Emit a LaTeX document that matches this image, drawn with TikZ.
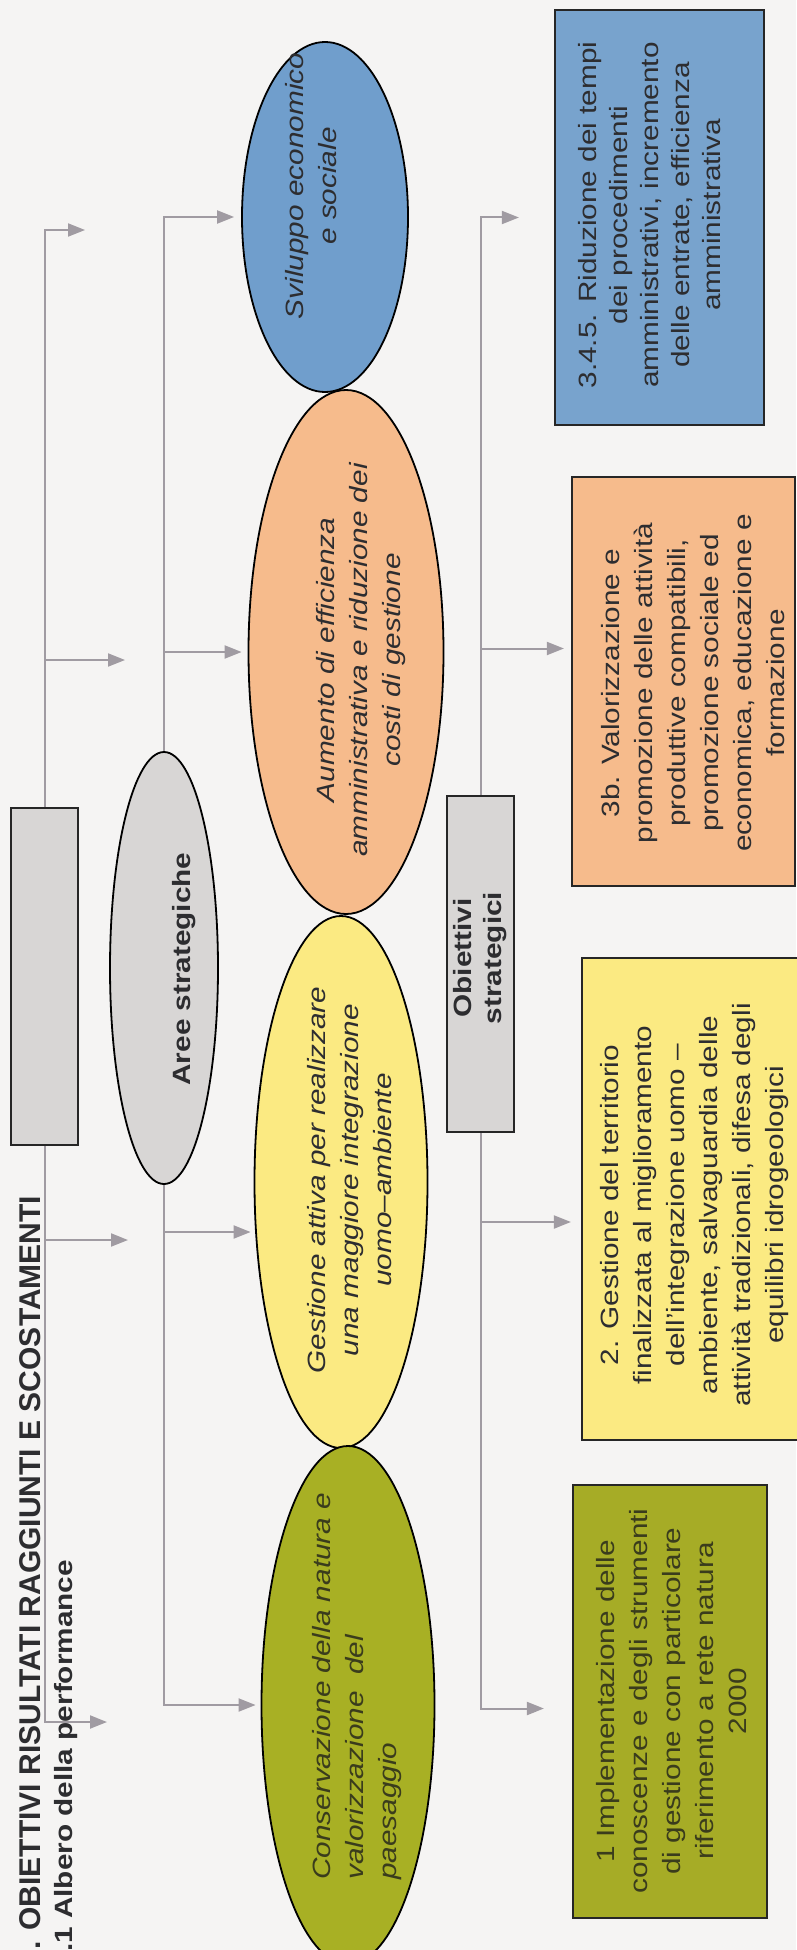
\documentclass[tikz,border=0pt]{standalone}
\usepackage{fontspec}
\usetikzlibrary{shapes.geometric,arrows.meta}
\newfontfamily\bodyfont[FakeStretch=1.19]{Liberation Sans}
\newfontfamily\headfont{Liberation Sans}
\definecolor{bgc}{RGB}{245,244,243}
\definecolor{linec}{RGB}{160,155,162}
\definecolor{bluee}{RGB}{112,158,204}
\definecolor{blueb}{RGB}{120,163,205}
\definecolor{orng}{RGB}{246,187,140}
\definecolor{yell}{RGB}{251,234,130}
\definecolor{olive}{RGB}{168,176,36}
\definecolor{oliveb}{RGB}{166,172,38}
\definecolor{grayf}{RGB}{216,214,213}
\definecolor{textc}{RGB}{45,45,48}
\definecolor{olivet}{RGB}{58,60,28}
\begin{document}
\begin{tikzpicture}[x=1pt,y=-1pt,
  conn/.style={draw=linec, line width=2pt, -{Triangle[length=17pt,width=13pt]}},
  oval/.style={ellipse, draw=black, line width=1.8pt, inner sep=0pt},
  boxst/.style={rectangle, draw=black!85, line width=2.2pt, inner sep=0pt},
  txt/.style={rotate=90, align=center, inner sep=0pt, text=textc, font=\bodyfont\fontsize{25}{33}\selectfont},
  itxt/.style={txt, font=\bodyfont\itshape\fontsize{25}{33}\selectfont},
  btxt/.style={txt, font=\bodyfont\bfseries\fontsize{25}{30}\selectfont},
]
\useasboundingbox (0,0) rectangle (796,1950);
\fill[bgc] (0,0) rectangle (796,1950);

% titles
\node[rotate=90, anchor=base west, inner sep=0pt, text=textc,
  font=\headfont\bfseries\fontsize{30}{36}\selectfont] (title) at (40,1950) {. OBIETTIVI RISULTATI RAGGIUNTI E SCOSTAMENTI};
\node[rotate=90, anchor=base west, inner sep=0pt, text=textc,
  font=\bodyfont\bfseries\fontsize{25}{30}\selectfont] (sub) at (72,1952) {.1 Albero della performance};

% level 1
\node[boxst, fill=grayf, minimum width=67pt, minimum height=337pt] (r1) at (44.5,976.5) {};

% level 2
\node[oval, fill=grayf, minimum width=108pt, minimum height=432pt] (ar) at (164,968) {};
\node[btxt] (art) at (184,969) {Aree strategiche};

\node[oval, fill=bluee, minimum width=166pt, minimum height=350pt] (sv) at (325,217) {};
\node[itxt] (svt) at (311,186) {Sviluppo economico\\e sociale};

\node[oval, fill=orng, minimum width=195pt, minimum height=524pt] (ae) at (346,652) {};
\node[itxt] (aet) at (361,660) {Aumento di efficienza\\amministrativa e riduzione dei\\costi di gestione};

\node[oval, fill=yell, minimum width=173pt, minimum height=532pt] (ga) at (341,1182) {};
\node[itxt] (gat) at (350,1180) {Gestione attiva per realizzare\\una maggiore integrazione\\uomo–ambiente};

\node[oval, fill=olive, minimum width=173pt, minimum height=518pt] (oc) at (348,1705) {};
\node[itxt, align=left, anchor=west, text=olivet] (oct) at (357,1880) {Conservazione della natura e\\valorizzazione\ \ del\\paesaggio};

% level 3
\node[boxst, fill=grayf, minimum width=67pt, minimum height=336pt] (ob) at (480.5,964) {};
\node[btxt] (obt) at (480,958) {Obiettivi\\strategici};

\node[boxst, fill=blueb, minimum width=209pt, minimum height=415pt] (bb) at (659.5,217.5) {};
\node[txt, font=\bodyfont\fontsize{25}{31}\selectfont] (bbt) at (650,215) {3.4.5. Riduzione dei tempi\\dei procedimenti\\amministrativi, incremento\\delle entrate, efficienza\\amministrativa};

\node[boxst, fill=orng, minimum width=223pt, minimum height=409pt] (obx) at (683.5,681.5) {};
\node[txt] (obxt) at (693,683) {3b. Valorizzazione e\\promozione delle attività\\produttive compatibili,\\promozione sociale ed\\economica, educazione e\\formazione};

\node[boxst, fill=yell, minimum width=223pt, minimum height=482pt] (yb) at (693.5,1199) {};
\node[txt] (ybt) at (695,1205) {2. Gestione del territorio\\finalizzata al miglioramento\\dell’integrazione uomo –\\ambiente, salvaguardia delle\\attività tradizionali, difesa degli\\equilibri idrogeologici};

\node[boxst, fill=oliveb, minimum width=194pt, minimum height=433pt] (olb) at (670,1701.5) {};
\node[txt, text=olivet] (olbt) at (672,1701) {1 Implementazione delle\\conoscenze e degli strumenti\\di gestione con particolare\\riferimento a rete natura\\2000};

% free ends of first trunk
\coordinate (t11) at (85,230);
\coordinate (t12) at (125,660);
\coordinate (t13) at (128,1240);
\coordinate (t14) at (107,1722);

% arrow end points on the targets
\coordinate (gain) at ([yshift=-50pt]ga.west);
\coordinate (obin) at ([yshift=33pt]obx.west);
\coordinate (ybin) at ([yshift=-23pt]yb.west);
\coordinate (olin) at ([yshift=-7pt]olb.west);

% trunk 1
\draw[conn] (r1.north) |- (t11);
\draw[conn] (r1.north |- t12) -- (t12);
\draw[conn] (r1.south) |- (t14);
\draw[conn] (r1.south |- t13) -- (t13);

% trunk 2
\draw[conn, shorten >=7pt] (ar.north) |- (sv.west);
\draw[conn, shorten >=6pt] (ar.north |- ae.west) -- (ae.west);
\draw[conn, shorten >=3pt] (ar.south |- gain) -- (gain);
\draw[conn, shorten >=5pt] (ar.south) |- (oc.west);

% trunk 3
\draw[conn, shorten >=35pt] (ob.north) |- (bb.west);
\draw[conn, shorten >=7pt] (ob.north |- obin) -- (obin);
\draw[conn, shorten >=10pt] (ob.south |- ybin) -- (ybin);
\draw[conn, shorten >=28pt] (ob.south) |- (olin);
\end{tikzpicture}
\end{document}
